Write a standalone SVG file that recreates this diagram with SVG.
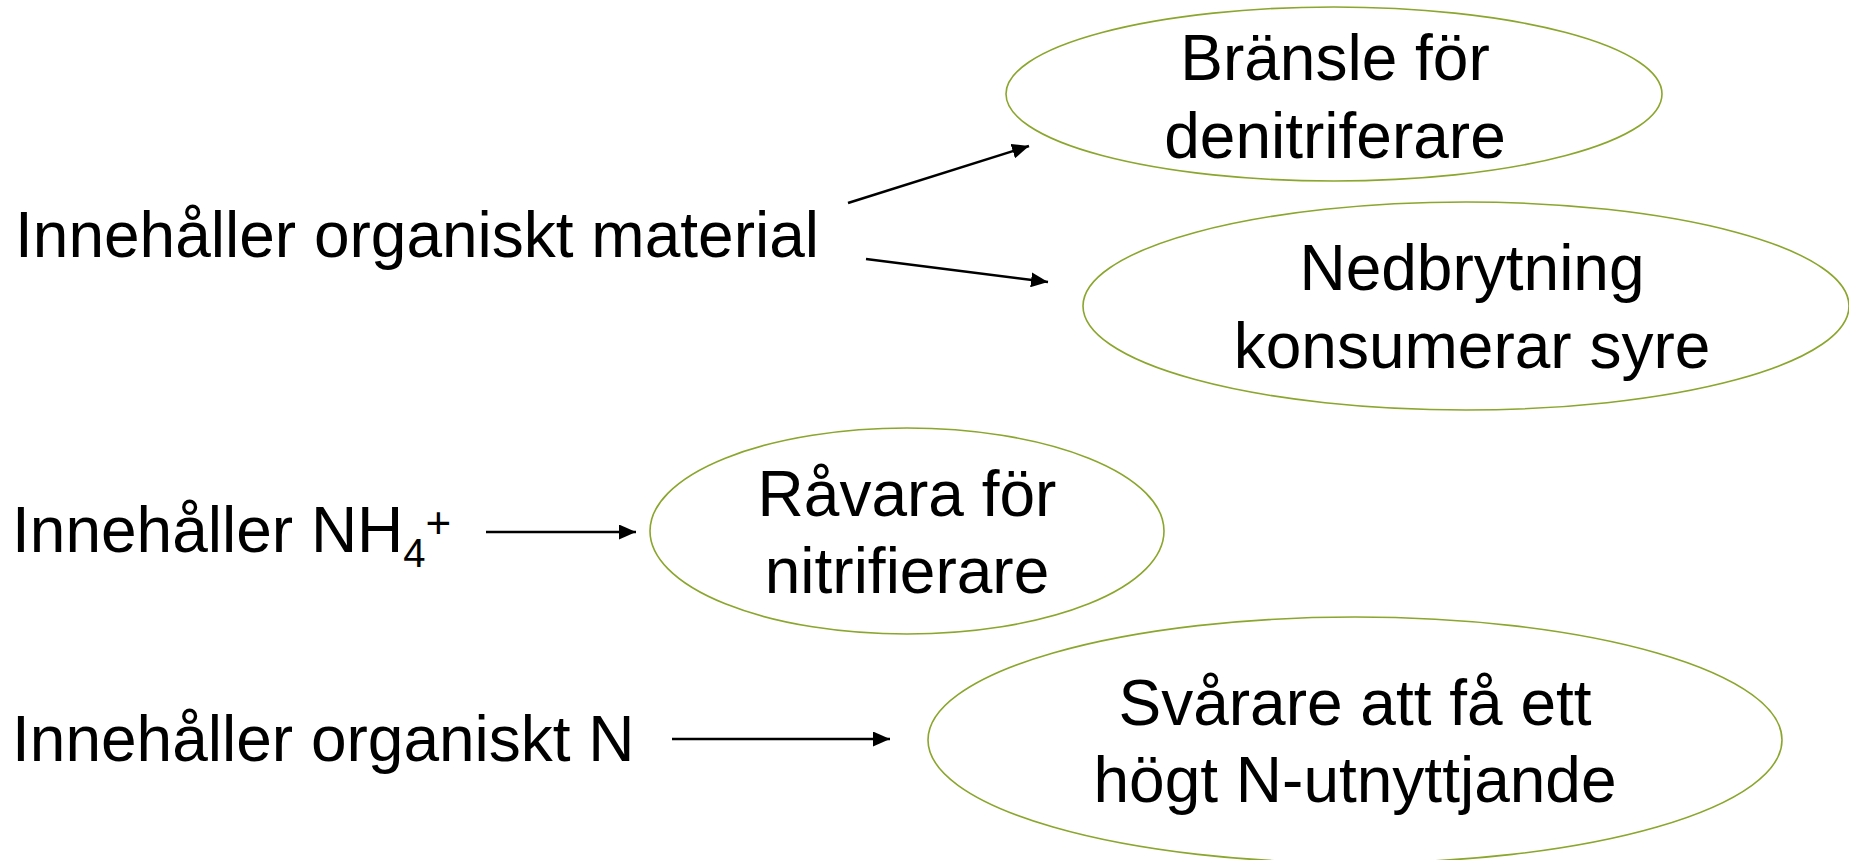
<svg xmlns="http://www.w3.org/2000/svg" width="1849" height="860" viewBox="0 0 1849 860">
<defs>
<marker id="ah" viewBox="0 0 17 15" refX="17" refY="7.5" markerWidth="17" markerHeight="15" markerUnits="userSpaceOnUse" orient="auto">
<path d="M0,0 L17,7.5 L0,15 Z" fill="#000"/>
</marker>
<style>
text{font-family:"Liberation Sans",Arial,sans-serif;font-size:64px;fill:#000}
.c{text-anchor:middle}
ellipse{fill:#fff;stroke:#8aa62c;stroke-width:1.6}
.conn line{stroke:#000;stroke-width:2.5;marker-end:url(#ah)}
</style>
</defs>
<rect width="1849" height="860" fill="#fff"/>
<g id="src1"><text x="15" y="257">Innehåller organiskt material</text></g>
<g id="src2"><text x="12" y="552">Innehåller NH<tspan font-size="40" dy="15">4</tspan><tspan font-size="44" dy="-29">+</tspan></text></g>
<g id="src3"><text x="12" y="761">Innehåller organiskt N</text></g>
<g id="n1"><ellipse cx="1334" cy="94" rx="328" ry="87"/>
<text class="c" x="1335" y="80">Bränsle för</text><text class="c" x="1335" y="158">denitriferare</text></g>
<g id="n2"><ellipse cx="1466" cy="306" rx="383" ry="104"/>
<text class="c" x="1472" y="290">Nedbrytning</text><text class="c" x="1472" y="368">konsumerar syre</text></g>
<g id="n3"><ellipse cx="907" cy="531" rx="257" ry="103"/>
<text class="c" x="907" y="516">Råvara för</text><text class="c" x="907" y="593">nitrifierare</text></g>
<g id="n4"><ellipse cx="1355" cy="740" rx="427" ry="123"/>
<text class="c" x="1355" y="725">Svårare att få ett</text><text class="c" x="1355" y="802">högt N-utnyttjande</text></g>
<g class="conn" id="connectors">
<line x1="848" y1="203" x2="1029" y2="146"/>
<line x1="866" y1="259" x2="1048" y2="282"/>
<line x1="486" y1="532" x2="636" y2="532"/>
<line x1="672" y1="739" x2="890" y2="739"/>
</g>
</svg>
